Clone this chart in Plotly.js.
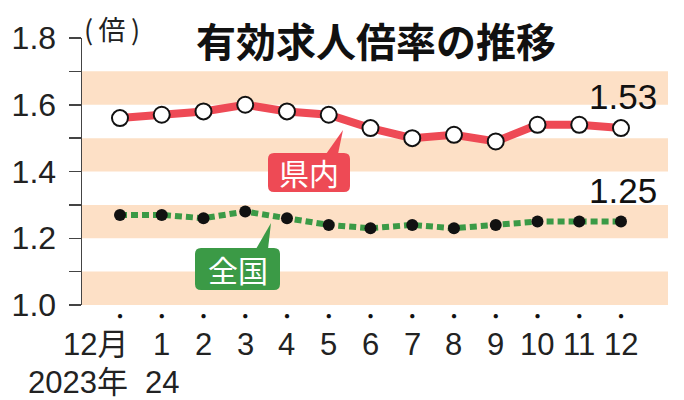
<!DOCTYPE html>
<html>
<head>
<meta charset="utf-8">
<script src="https://cdn.plot.ly/plotly-3.0.1.min.js"></script>
<style>html,body{margin:0;padding:0;background:#fff;}#chart{width:684px;height:400px;}</style>
</head>
<body>
<div id="chart"></div>
<script>
// ---- data ----
const months = ['12月','1','2','3','4','5','6','7','8','9','10','11','12'];
const yearLabels = ['2023年','24'];
const kennai = [1.56,1.57,1.58,1.60,1.58,1.57,1.53,1.50,1.51,1.49,1.54,1.54,1.53];
const zenkoku = [1.27,1.27,1.26,1.28,1.26,1.24,1.23,1.24,1.23,1.24,1.25,1.25,1.25];
const seriesNames = ['県内','全国'];
const yTickVals = [1.0,1.1,1.2,1.3,1.4,1.5,1.6,1.7,1.8];
const yTickText = ['1.0','','1.2','','1.4','','1.6','','1.8'];
const bandStarts = [1.0,1.2,1.4,1.6];
const bandWidth = 0.1;
const titleText = '有効求人倍率の推移';
const unitText = '(\u2009倍\u2009)';

// ---- layout geometry ----
const W = 684, H = 400;
const M = {l:82, r:16, t:38, b:95};
const PW = W - M.l - M.r, PH = H - M.t - M.b;
const px = x => (x - M.l) / PW;
const py = y => (H - M.b - y) / PH;

const RED = '#ee4a55', GREEN = '#3b9a46', BAND = '#fde0c6';
const NUM_FONT = 'Liberation Sans Narrow, Liberation Sans, Arial, sans-serif';
const JP_FONT = 'Noto Sans CJK JP, Noto Sans, sans-serif';

function roundRect(x0, y0, x1, y1, r) {
  const rx = r / PW, ry = r / PH;
  const X0 = px(x0), X1 = px(x1), Y0 = py(y0), Y1 = py(y1);
  return `M ${X0+rx},${Y0} L ${X1-rx},${Y0} Q ${X1},${Y0} ${X1},${Y0-ry} L ${X1},${Y1+ry} Q ${X1},${Y1} ${X1-rx},${Y1} L ${X0+rx},${Y1} Q ${X0},${Y1} ${X0},${Y1+ry} L ${X0},${Y0-ry} Q ${X0},${Y0} ${X0+rx},${Y0} Z`;
}
function tri(ax, ay, bx, by, cx, cy) {
  return `M ${px(ax)},${py(ay)} L ${px(bx)},${py(by)} L ${px(cx)},${py(cy)} Z`;
}

const shapes = [];
bandStarts.forEach(b => shapes.push({type:'rect', xref:'paper', yref:'y', x0:0, x1:1, y0:b, y1:b+bandWidth, fillcolor:BAND, line:{width:0}, layer:'below'}));
shapes.push({type:'path', xref:'paper', yref:'paper', path: roundRect(268,153,350,192,6), fillcolor:RED, line:{width:0}, layer:'below'});
shapes.push({type:'path', xref:'paper', yref:'paper', path: tri(326,154,338,154,343,130), fillcolor:RED, line:{width:0}, layer:'below'});
shapes.push({type:'path', xref:'paper', yref:'paper', path: roundRect(195,248,280,290,6), fillcolor:GREEN, line:{width:0}, layer:'below'});
shapes.push({type:'path', xref:'paper', yref:'paper', path: tri(256,249,268,249,271,223), fillcolor:GREEN, line:{width:0}, layer:'below'});

const annotations = [];
months.forEach((m, i) => annotations.push({
  x: m, xref:'x', y:0, yref:'paper', yanchor:'top', yshift:-20,
  xanchor: i === 0 ? 'right' : 'center', xshift: i === 0 ? 10 : 0,
  text: m, showarrow:false, font:{family: NUM_FONT + ',' + JP_FONT, size:31, color:'#222'}
}));
yearLabels.forEach((t, i) => annotations.push({
  x: months[i], xref:'x', y:0, yref:'paper', yanchor:'top', yshift:-58,
  xanchor: i === 0 ? 'right' : 'center', xshift: i === 0 ? 10 : 0,
  text: t, showarrow:false, font:{family: NUM_FONT + ',' + JP_FONT, size:31, color:'#222'}
}));
annotations.push({x: months[months.length-1], y: kennai[kennai.length-1], xref:'x', yref:'y', yanchor:'bottom', yshift:10, xshift:2,
  text: kennai[kennai.length-1].toFixed(2), showarrow:false, font:{family:NUM_FONT, size:35, color:'#111'}});
annotations.push({x: months[months.length-1], y: zenkoku[zenkoku.length-1], xref:'x', yref:'y', yanchor:'bottom', yshift:10, xshift:2,
  text: zenkoku[zenkoku.length-1].toFixed(2), showarrow:false, font:{family:NUM_FONT, size:35, color:'#111'}});
annotations.push({x: px(309), y: py(172), xref:'paper', yref:'paper', xanchor:'center', yanchor:'middle', text: seriesNames[0], showarrow:false, font:{family:JP_FONT, size:30, color:'#fff'}});
annotations.push({x: px(237.5), y: py(269), xref:'paper', yref:'paper', xanchor:'center', yanchor:'middle', text: seriesNames[1], showarrow:false, font:{family:JP_FONT, size:30, color:'#fff'}});
annotations.push({x: px(112), y: py(29), xref:'paper', yref:'paper', xanchor:'center', yanchor:'middle', text: unitText, showarrow:false, font:{family:JP_FONT, size:27, color:'#222'}});

const traces = [
  {x: months, y: zenkoku, type:'scatter', mode:'lines+markers', name: seriesNames[1], cliponaxis:false,
   line:{color:GREEN, width:6, dash:'7px,4px'}, marker:{color:'#111', size:12}},
  {x: months, y: kennai, type:'scatter', mode:'lines+markers', name: seriesNames[0], cliponaxis:false,
   line:{color:RED, width:8}, marker:{color:'#fff', size:16, line:{color:'#111', width:2}}}
];

const layout = {
  width: W, height: H, margin: M, showlegend:false,
  paper_bgcolor:'#fff', plot_bgcolor:'#fff',
  title: {text: titleText, x: 376/W, xanchor:'center', xref:'container', y: 1 - 43/H, yref:'container', yanchor:'middle',
    font:{family:JP_FONT, size:40, color:'#111', weight:'bold'}},
  xaxis: {type:'category', range:[-0.91, 13.126], showgrid:false, zeroline:false, showline:false,
    tickmode:'array', tickvals: months, ticktext: months.map(() => '●'), ticks:'',
    tickfont:{size:10, color:'#111'}, ticklabelstandoff: 3, fixedrange:true},
  yaxis: {range:[1.0,1.8], showgrid:false, zeroline:false, showline:true, linecolor:'#444', linewidth:1.5,
    ticks:'outside', ticklen:12, tickwidth:1.5, tickcolor:'#444',
    tickmode:'array', tickvals:yTickVals, ticktext:yTickText,
    tickfont:{family:NUM_FONT, size:32, color:'#222'}, ticklabelstandoff: 6, fixedrange:true},
  shapes, annotations
};

Plotly.newPlot('chart', traces, layout, {staticPlot:true});
</script>
</body>
</html>
